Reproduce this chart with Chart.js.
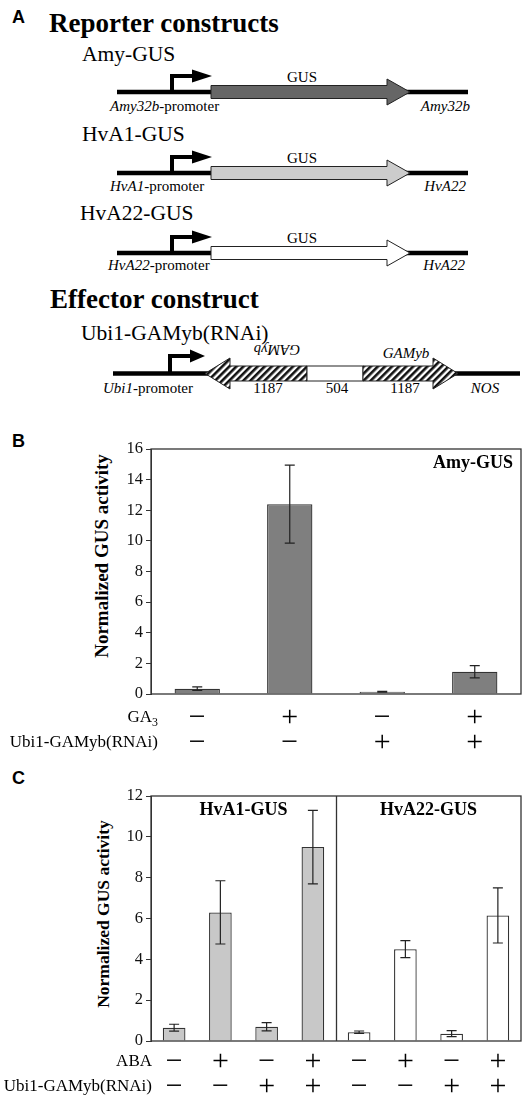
<!DOCTYPE html>
<html>
<head>
<meta charset="utf-8">
<script src="https://cdn.jsdelivr.net/npm/chart.js@4.4.0/dist/chart.umd.min.js"></script>
<style>
  body { margin: 0; background: #fff; width: 527px; height: 1098px; position: relative; overflow: hidden;
         font-family: "Liberation Serif", "Times New Roman", serif; color: #000; }
  .letter { position: absolute; left: 12px; font: bold 18px "Liberation Sans", Arial, sans-serif; line-height: 18px; }
  .ytitle { position: absolute; font-weight: bold; white-space: nowrap; transform: translate(-50%, -50%) rotate(-90deg); }
  canvas { position: absolute; left: 0; }
  svg { position: absolute; left: 0; top: 0; }
</style>
</head>
<body>

<div class="letter" style="top:8px">A</div>
<div class="letter" style="top:432px">B</div>
<div class="letter" style="top:769px">C</div>

<!-- Panel A: construct diagrams -->
<svg width="527" height="400" xmlns="http://www.w3.org/2000/svg" font-family="Liberation Serif, Times New Roman, serif">
  <defs>
    <pattern id="hatch" patternUnits="userSpaceOnUse" width="5" height="5" patternTransform="rotate(45)">
      <rect width="5" height="5" fill="#fff"/>
      <rect width="2.6" height="5" fill="#111"/>
    </pattern>
    <g id="construct">
      <line x1="117" y1="92" x2="468" y2="92" stroke="#000" stroke-width="4.5"/>
      <path d="M172,94 V76 H194" fill="none" stroke="#000" stroke-width="4"/>
      <polygon points="192,69.5 212,76 192,82.5" fill="#000"/>
    </g>
  </defs>

  <text x="49" y="32" font-size="27" font-weight="bold">Reporter constructs</text>

  <!-- Amy-GUS -->
  <text x="82" y="61" font-size="21.5">Amy-GUS</text>
  <use href="#construct"/>
  <polygon points="211,85.5 387,85.5 387,79 410,92 387,105 387,98.5 211,98.5" fill="#666" stroke="#222" stroke-width="1"/>
  <text x="302" y="82" font-size="15" text-anchor="middle">GUS</text>
  <text x="110" y="111" font-size="15"><tspan font-style="italic">Amy32b</tspan>-promoter</text>
  <text x="470" y="111" font-size="15" font-style="italic" text-anchor="end">Amy32b</text>

  <!-- HvA1-GUS -->
  <g transform="translate(0,81)">
    <text x="82" y="60" font-size="21.5">HvA1-GUS</text>
    <use href="#construct"/>
    <polygon points="211,85.5 387,85.5 387,79 410,92 387,105 387,98.5 211,98.5" fill="#ccc" stroke="#222" stroke-width="1"/>
    <text x="302" y="82" font-size="15" text-anchor="middle">GUS</text>
    <text x="110" y="110" font-size="15"><tspan font-style="italic">HvA1</tspan>-promoter</text>
    <text x="466" y="110" font-size="15" font-style="italic" text-anchor="end">HvA22</text>
  </g>

  <!-- HvA22-GUS -->
  <g transform="translate(0,161)">
    <text x="80" y="59" font-size="21.5">HvA22-GUS</text>
    <use href="#construct"/>
    <polygon points="211,85.5 387,85.5 387,79 410,92 387,105 387,98.5 211,98.5" fill="#fff" stroke="#222" stroke-width="1"/>
    <text x="302" y="82" font-size="15" text-anchor="middle">GUS</text>
    <text x="108" y="109" font-size="15"><tspan font-style="italic">HvA22</tspan>-promoter</text>
    <text x="465" y="109" font-size="15" font-style="italic" text-anchor="end">HvA22</text>
  </g>

  <!-- Effector -->
  <text x="50" y="308" font-size="27" font-weight="bold">Effector construct</text>
  <text x="81" y="340" font-size="21.5">Ubi1-GAMyb(RNAi)</text>
  <line x1="113" y1="373.5" x2="520" y2="373.5" stroke="#000" stroke-width="4.5"/>
  <path d="M170,375 V356 H192" fill="none" stroke="#000" stroke-width="4"/>
  <polygon points="190,349.5 205,356 190,362.5" fill="#000"/>
  <polygon points="205,373.5 230,358 230,366 307,366 307,381 230,381 230,389" fill="url(#hatch)" stroke="#222" stroke-width="1"/>
  <rect x="307" y="366" width="56" height="15" fill="#fff" stroke="#222" stroke-width="1"/>
  <polygon points="363,366 433,366 433,358 458,373.5 433,389 433,381 363,381" fill="url(#hatch)" stroke="#222" stroke-width="1"/>
  <text transform="translate(277,350) rotate(180)" font-size="15" font-style="italic" text-anchor="middle" dominant-baseline="central">GAMyb</text>
  <text x="406" y="358" font-size="15" font-style="italic" text-anchor="middle">GAMyb</text>
  <text x="103" y="393" font-size="15"><tspan font-style="italic">Ubi1</tspan>-promoter</text>
  <text x="268" y="393" font-size="15" text-anchor="middle">1187</text>
  <text x="337" y="393" font-size="15" text-anchor="middle">504</text>
  <text x="405" y="393" font-size="15" text-anchor="middle">1187</text>
  <text x="485" y="393" font-size="15" font-style="italic" text-anchor="middle">NOS</text>
</svg>

<div class="ytitle" style="left:102px; top:556px; font-size:19px">Normalized GUS activity</div>
<div class="ytitle" style="left:103px; top:914px; font-size:17.5px">Normalized GUS activity</div>

<canvas id="chartB" width="527" height="330" style="top:430px"></canvas>
<canvas id="chartC" width="527" height="328" style="top:770px"></canvas>

<script>
const serif = '"Liberation Serif", "Times New Roman", serif';

// Panel B: Amy-GUS
const bLabels = ['GA3- RNAi-', 'GA3+ RNAi-', 'GA3- RNAi+', 'GA3+ RNAi+'];
const bGA = ['−', '+', '−', '+'];
const bRNAi = ['−', '−', '+', '+'];
const bValues = [0.35, 12.4, 0.15, 1.45];
const bErrors = [0.12, 2.55, 0.03, 0.4];
const bMax = 16;
const bStep = 2;

// Panel C: HvA1-GUS (first four) and HvA22-GUS (last four)
const cLabels = ['A1 ABA- RNAi-', 'A1 ABA+ RNAi-', 'A1 ABA- RNAi+', 'A1 ABA+ RNAi+',
                 'A22 ABA- RNAi-', 'A22 ABA+ RNAi-', 'A22 ABA- RNAi+', 'A22 ABA+ RNAi+'];
const cABA = ['−', '+', '−', '+', '−', '+', '−', '+'];
const cRNAi = ['−', '−', '+', '+', '−', '−', '+', '+'];
const cValues = [0.65, 6.3, 0.7, 9.5, 0.43, 4.5, 0.36, 6.15];
const cErrors = [0.17, 1.55, 0.2, 1.8, 0.06, 0.42, 0.15, 1.35];
const cReporters = ['HvA1-GUS', 'HvA22-GUS'];
const cMax = 12;
const cStep = 2;

// draws a row title right-aligned, parts may be subscripts
function drawTitle(ctx, parts, right, y, size) {
  const fonts = parts.map(p => (p.sub ? size * 0.7 : size) + 'px ' + serif);
  let total = 0;
  parts.forEach((p, i) => { ctx.font = fonts[i]; total += ctx.measureText(p.t).width; });
  let x = right - total;
  ctx.textAlign = 'left';
  ctx.textBaseline = 'middle';
  parts.forEach((p, i) => {
    ctx.font = fonts[i];
    ctx.fillText(p.t, x, p.sub ? y + size * 0.3 : y);
    x += ctx.measureText(p.t).width;
  });
}

// error bars, frame, panel labels and the treatment rows
const decor = {
  id: 'decor',
  afterDatasetsDraw(chart, args, opts) {
    const ctx = chart.ctx;
    const area = chart.chartArea;
    const xs = chart.scales.x, ys = chart.scales.y;
    ctx.save();

    ctx.strokeStyle = '#222';
    ctx.lineWidth = 1.2;
    chart.getDatasetMeta(0).data.forEach((bar, i) => {
      const v = opts.values[i], e = opts.errors[i];
      const yt = ys.getPixelForValue(v + e), yb = ys.getPixelForValue(v - e);
      ctx.beginPath();
      ctx.moveTo(bar.x, yt); ctx.lineTo(bar.x, yb);
      ctx.moveTo(bar.x - opts.cap, yt); ctx.lineTo(bar.x + opts.cap, yt);
      ctx.moveTo(bar.x - opts.cap, yb); ctx.lineTo(bar.x + opts.cap, yb);
      ctx.stroke();
    });

    ctx.strokeStyle = '#333';
    ctx.lineWidth = 1.3;
    ctx.strokeRect(area.left, area.top, area.right - area.left, area.bottom - area.top);
    (opts.dividers || []).forEach(d => {
      const px = Math.round(xs.getPixelForValue(d)) + 0.5;
      ctx.beginPath();
      ctx.moveTo(px, area.top); ctx.lineTo(px, area.bottom);
      ctx.stroke();
    });

    ctx.fillStyle = '#000';
    ctx.textBaseline = 'alphabetic';
    (opts.tags || []).forEach(t => {
      ctx.font = 'bold ' + t.size + 'px ' + serif;
      ctx.textAlign = t.align;
      const px = t.index === undefined ? area.right - t.dx : xs.getPixelForValue(t.index);
      ctx.fillText(t.text, px, area.top + t.dy);
    });

    opts.rows.forEach(row => {
      ctx.font = opts.signSize + 'px ' + serif;
      ctx.textAlign = 'center';
      ctx.textBaseline = 'middle';
      row.signs.forEach((s, i) => ctx.fillText(s, xs.getPixelForValue(i), row.y));
      drawTitle(ctx, row.title, row.right, row.y, opts.titleSize);
    });
    ctx.restore();
  }
};

function barChart(id, labels, values, colors, max, step, pad, decorOpts) {
  return new Chart(document.getElementById(id).getContext('2d'), {
    type: 'bar',
    data: {
      labels: labels,
      datasets: [{
        data: values,
        backgroundColor: colors,
        borderColor: '#333',
        borderWidth: 1.3,
        borderSkipped: 'bottom',
        barPercentage: 0.49,
        categoryPercentage: 1
      }]
    },
    options: {
      responsive: false,
      animation: false,
      devicePixelRatio: 1,
      layout: { padding: pad },
      plugins: { legend: { display: false }, tooltip: { enabled: false }, decor: decorOpts },
      scales: {
        x: { display: false },
        y: {
          min: 0,
          max: max,
          afterFit: s => { s.width = 40; },
          ticks: { stepSize: step, padding: 3, color: '#111', font: { family: serif, size: 16.5 } },
          grid: { drawOnChartArea: false, tickLength: 5, color: '#333' },
          border: { display: true, color: '#333' }
        }
      }
    },
    plugins: [decor]
  });
}

barChart('chartB', bLabels, bValues, '#7f7f7f', bMax, bStep,
  { left: 111, right: 6, top: 19, bottom: 66 },
  {
    values: bValues, errors: bErrors, cap: 5,
    tags: [{ text: 'Amy-GUS', size: 18, align: 'right', dx: 8, dy: 19 }],
    signSize: 30, titleSize: 17,
    rows: [
      { signs: bGA, y: 288, right: 158, title: [{ t: 'GA' }, { t: '3', sub: true }] },
      { signs: bRNAi, y: 313, right: 158, title: [{ t: 'Ubi1-GAMyb(RNAi)' }] }
    ]
  });

barChart('chartC', cLabels, cValues,
  ['#c8c8c8', '#c8c8c8', '#c8c8c8', '#c8c8c8', '#fff', '#fff', '#fff', '#fff'], cMax, cStep,
  { left: 111, right: 6, top: 26, bottom: 57 },
  {
    values: cValues, errors: cErrors, cap: 5,
    dividers: [3.5],
    tags: [
      { text: cReporters[0], size: 18, align: 'center', index: 1.5, dy: 19 },
      { text: cReporters[1], size: 18, align: 'center', index: 5.5, dy: 19 }
    ],
    signSize: 30, titleSize: 17,
    rows: [
      { signs: cABA, y: 292, right: 152, title: [{ t: 'ABA' }] },
      { signs: cRNAi, y: 317, right: 152, title: [{ t: 'Ubi1-GAMyb(RNAi)' }] }
    ]
  });
</script>
</body>
</html>
